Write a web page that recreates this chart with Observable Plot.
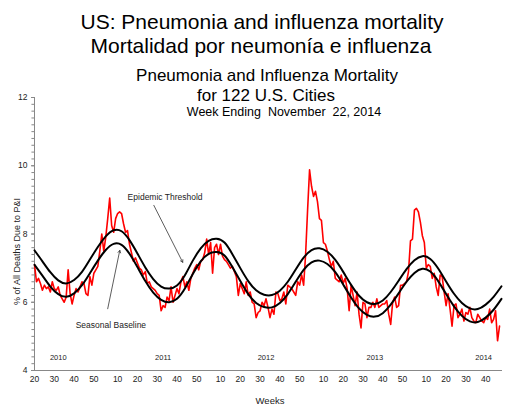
<!DOCTYPE html>
<html><head><meta charset="utf-8">
<script src="https://cdn.jsdelivr.net/npm/d3@7"></script>
<script src="https://cdn.jsdelivr.net/npm/@observablehq/plot@0.6"></script>
<style>
body{margin:0;background:#fff;}
#wrap{position:relative;width:505px;height:407px;overflow:hidden;font-family:Arial,"Liberation Sans",sans-serif;background:#fff;}
.t{position:absolute;white-space:pre;transform:translateX(-50%);line-height:1;color:#000;}
#chart{position:absolute;left:0;top:0;}
</style></head><body>
<div id="wrap">
<div id="chart"></div>
<div class="t" style="left:262px;top:10.5px;font-size:21px">US: Pneumonia and influenza mortality</div>
<div class="t" style="left:261px;top:35px;font-size:21px">Mortalidad por neumonía e influenza</div>
<div class="t" style="left:267px;top:69px;font-size:17px;line-height:0.85">Pneumonia and Influenza Mortality</div>
<div class="t" style="left:266px;top:88.5px;font-size:17px;line-height:0.85">for 122 U.S. Cities</div>
<div class="t" style="left:284px;top:106.6px;font-size:12.5px;line-height:0.85">Week Ending  November  22, 2014</div>
</div>
<script>
// Weekly % of deaths due to P&I, starting 2010 week 20
const piPercent = [
  7.10, 6.60, 6.70, 6.55, 6.35, 6.50, 6.40, 6.45, 6.30, 6.60,
  6.40, 6.35, 6.45, 6.20, 6.10, 6.00, 6.15, 6.95, 6.25, 5.95,
  6.20, 6.40, 6.30, 6.45, 6.60, 6.55, 6.25, 6.20, 6.75, 6.50,
  6.85, 6.95, 7.05, 7.50, 8.00, 7.50, 7.90, 8.45, 9.05, 8.25,
  8.05, 8.45, 8.60, 8.65, 8.60, 8.30, 8.05, 8.10, 7.70, 7.45,
  7.20, 7.30, 7.15, 7.00, 6.95, 6.80, 6.90, 6.55, 6.60, 6.45,
  6.40, 6.35, 6.25, 6.20, 5.75, 5.90, 5.85, 6.15, 6.05, 6.45,
  6.00, 6.20, 6.40, 6.25, 6.60, 6.75, 6.45, 6.60, 6.35, 6.70,
  6.85, 7.00, 7.10, 6.95, 7.20, 7.25, 7.45, 7.85, 7.40, 7.75,
  6.85, 7.60, 7.70, 7.40, 7.70, 7.35, 7.25, 7.20, 7.10, 7.00,
  7.05, 6.90, 6.75, 6.20, 6.55, 6.40, 6.25, 6.60, 6.20, 6.30,
  6.00, 5.95, 5.55, 5.70, 5.75, 6.00, 5.90, 6.10, 5.85, 5.55,
  5.80, 5.65, 6.30, 6.25, 6.05, 6.10, 6.30, 5.95, 6.50, 6.45,
  6.40, 6.30, 6.20, 6.60, 6.50, 6.80, 6.50, 7.40, 8.70, 9.88,
  9.40, 9.10, 9.25, 8.95, 8.45, 8.40, 7.75, 7.70, 7.50, 7.25,
  7.05, 7.20, 6.70, 6.65, 6.60, 6.80, 6.55, 6.70, 6.40, 5.75,
  6.50, 6.20, 5.90, 6.30, 5.65, 5.25, 6.00, 5.95, 5.55, 5.85,
  5.85, 6.00, 5.85, 6.10, 5.85, 5.90, 5.95, 5.95, 6.05, 5.65,
  5.35, 6.00, 6.15, 5.85, 5.90, 6.50, 6.50, 6.55, 6.60, 6.90,
  7.80, 7.85, 8.70, 8.75, 8.65, 8.35, 7.95, 7.75, 7.00, 7.10,
  7.05, 6.70, 6.85, 6.45, 6.20, 6.80, 6.75, 6.30, 5.90, 6.25,
  5.80, 5.30, 5.90, 5.95, 5.55, 5.65, 5.80, 5.45, 5.70, 5.65,
  5.85, 5.55, 5.45, 5.40, 5.65, 5.55, 5.45, 5.40, 5.55, 5.50,
  5.80, 5.40, 5.50, 5.75, 4.87, 5.30
];
// Seasonal baseline and epidemic threshold, sampled every 4 weeks from 2010 week 20
const curveStep = 4;
const seasonalBaseline = [
  7.10, 6.78, 6.46, 6.24, 6.16, 6.26, 6.50, 6.85, 7.22, 7.53,
  7.71, 7.68, 7.42, 7.03, 6.62, 6.28, 6.07, 6.00, 6.10, 6.40,
  6.83, 7.20, 7.42, 7.47, 7.37, 7.03, 6.62, 6.24, 5.98, 5.86,
  5.85, 5.98, 6.24, 6.60, 6.95, 7.17, 7.22, 7.12, 6.88, 6.52,
  6.14, 5.82, 5.63, 5.58, 5.68, 5.93, 6.26, 6.60, 6.86, 6.98,
  6.90, 6.62, 6.24, 5.88, 5.60, 5.44, 5.42, 5.55, 5.78, 6.10
];
const epidemicThreshold = [
  7.52, 7.20, 6.88, 6.64, 6.55, 6.65, 6.89, 7.25, 7.62, 7.93,
  8.11, 8.08, 7.82, 7.43, 7.02, 6.68, 6.46, 6.40, 6.49, 6.79,
  7.22, 7.58, 7.80, 7.86, 7.75, 7.41, 7.00, 6.62, 6.35, 6.22,
  6.21, 6.34, 6.60, 6.96, 7.31, 7.53, 7.58, 7.48, 7.24, 6.89,
  6.51, 6.19, 6.00, 5.95, 6.05, 6.30, 6.63, 6.97, 7.23, 7.35,
  7.27, 6.99, 6.61, 6.25, 5.98, 5.82, 5.80, 5.93, 6.16, 6.47
];
// Axis ticks
const yTicks = [4, 6, 8, 10, 12];
const years = [2010, 2011, 2012, 2013, 2014];
const weeksInYear = [52, 52, 52, 52, 53];
const firstWeek = 20;
const tickWeeks = [
  [20, 30, 40, 50],
  [10, 20, 30, 40, 50],
  [10, 20, 30, 40, 50],
  [10, 20, 30, 40, 50],
  [10, 20, 30, 40]
];
const yearLabelWeeks = [32, 33, 33, 36, 39];
const yearLabelValue = 4.38;
// Annotations (data coordinates: week index, percent)
const annLabels = ["Epidemic Threshold", "Seasonal Baseline"];
const annTextX = [66.0, 38.6];
const annTextY = [9.08, 5.34];
const annFromX = [60.3, 37.0];
const annFromY = [8.84, 5.81];
const annToX = [74.9, 43.1];
const annToY = [7.17, 7.52];
const yLabel = "% of All Deaths Due to P&I";
const xLabel = "Weeks";

// week index helper from (year position, week)
function weekIndex(yi, w) {
  let idx = -firstWeek;
  for (let k = 0; k < yi; k++) idx += weeksInYear[k];
  return idx + w;
}
const xTicks = [];
const xTickText = new Map();
tickWeeks.forEach((ws, yi) => ws.forEach(w => { const i = weekIndex(yi, w); xTicks.push(i); xTickText.set(i, String(w)); }));
const yearLabels = years.map((y, yi) => ({text: String(y), x: weekIndex(yi, yearLabelWeeks[yi])}));
const anns = annLabels.map((t, k) => ({t, x: annTextX[k], y: annTextY[k], x1: annFromX[k], y1: annFromY[k], x2: annToX[k], y2: annToY[k]}));
const minorTicks = d3.range(4, 12.001, 0.2);

const font = "Arial, 'Liberation Sans', sans-serif";
const chart = Plot.plot({
  width: 505, height: 407,
  marginLeft: 34, marginRight: 3, marginTop: 97, marginBottom: 37,
  x: {type: "linear", domain: [0, 236.5]},
  y: {type: "linear", domain: [4, 12]},
  style: {fontFamily: font, background: "transparent", color: "#222"},
  marks: [
    Plot.ruleY(minorTicks, {x1: -1.3, x2: 0, stroke: "#888", strokeWidth: 1}),
    Plot.axisY(yTicks, {tickSize: 3, tickPadding: 4, fontSize: 8.5, label: null, stroke: "#888", fill: "#222"}),
    Plot.ruleX([0], {y1: 4, y2: 12, stroke: "#888", strokeWidth: 1}),
    Plot.ruleY([4], {x1: 0, x2: 236.5, stroke: "#888", strokeWidth: 1}),
    Plot.axisX(xTicks, {tickSize: 0, tickPadding: 5, fontSize: 8.5, label: null, fill: "#222", tickFormat: d => xTickText.get(d)}),
    Plot.text(yearLabels, {x: "x", y: yearLabelValue, text: "text", fontSize: 7.5, fill: "#222"}),
    Plot.line(piPercent, {x: (d, i) => i, y: d => d, stroke: "#ff0000", strokeWidth: 1.6}),
    Plot.line(seasonalBaseline, {x: (d, i) => i * curveStep, y: d => d, curve: "natural", stroke: "#000", strokeWidth: 2}),
    Plot.line(epidemicThreshold, {x: (d, i) => i * curveStep, y: d => d, curve: "natural", stroke: "#000", strokeWidth: 2}),
    Plot.arrow(anns, {x1: "x1", y1: "y1", x2: "x2", y2: "y2", stroke: "#333", strokeWidth: 0.8, headLength: 5}),
    Plot.text(anns, {x: "x", y: "y", text: "t", fontSize: 8.5, fill: "#222"}),
    Plot.text([yLabel], {x: -8.6, y: 7.49, text: d => d, rotate: -90, fontSize: 9, fill: "#222"}),
    Plot.text([xLabel], {x: 119, y: 3.1, text: d => d, fontSize: 9.5, fill: "#222"})
  ]
});
document.getElementById("chart").appendChild(chart);
</script>
</body></html>
